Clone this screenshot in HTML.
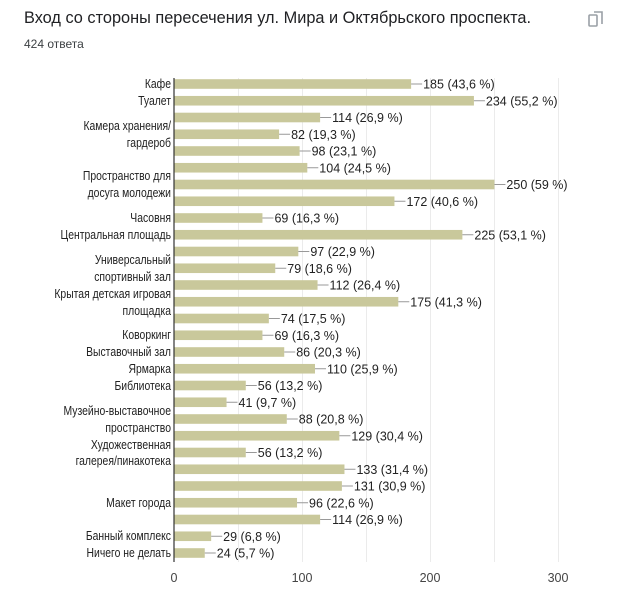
<!DOCTYPE html>
<html><head><meta charset="utf-8"><style>
body{margin:0;background:#fff;}
svg text{font-family:"Liberation Sans",Arial,sans-serif;}
</style></head><body>
<svg width="630" height="594" xmlns="http://www.w3.org/2000/svg">
<rect width="630" height="594" fill="#fff"/>
<text x="24" y="23" font-size="16.5" fill="#202124" textLength="507" lengthAdjust="spacingAndGlyphs">Вход со стороны пересечения ул. Мира и Октябрьского проспекта.</text>
<text x="24" y="48" font-size="12" fill="#3c4043">424 ответа</text>
<g fill="none" stroke="#9aa0a6" stroke-width="1.6">
<rect x="589" y="15" width="8" height="11" rx="1"/>
<path d="M594 12 H602 V24"/>
</g>
<g stroke="#ebebeb" stroke-width="1">
<line x1="238.5" y1="78" x2="238.5" y2="562"/>
<line x1="302.5" y1="78" x2="302.5" y2="562"/>
<line x1="366.5" y1="78" x2="366.5" y2="562"/>
<line x1="430.5" y1="78" x2="430.5" y2="562"/>
<line x1="494.5" y1="78" x2="494.5" y2="562"/>
<line x1="558.5" y1="78" x2="558.5" y2="562"/>
</g>
<g font-size="12.5" fill="#222">
<g transform="translate(0,84)"><rect x="174" y="-4.8" width="237.11" height="9.6" fill="#c9c89b"/><line x1="411.11" y1="0" x2="422.11" y2="0" stroke="#999"/><text x="423.11" y="4.5">185 (43,6 %)</text></g>
<g transform="translate(0,100.75)"><rect x="174" y="-4.8" width="299.92" height="9.6" fill="#c9c89b"/><line x1="473.92" y1="0" x2="484.92" y2="0" stroke="#999"/><text x="485.92" y="4.5">234 (55,2 %)</text></g>
<g transform="translate(0,117.5)"><rect x="174" y="-4.8" width="146.11" height="9.6" fill="#c9c89b"/><line x1="320.11" y1="0" x2="331.11" y2="0" stroke="#999"/><text x="332.11" y="4.5">114 (26,9 %)</text></g>
<g transform="translate(0,134.25)"><rect x="174" y="-4.8" width="105.10" height="9.6" fill="#c9c89b"/><line x1="279.10" y1="0" x2="290.10" y2="0" stroke="#999"/><text x="291.10" y="4.5">82 (19,3 %)</text></g>
<g transform="translate(0,151)"><rect x="174" y="-4.8" width="125.61" height="9.6" fill="#c9c89b"/><line x1="299.61" y1="0" x2="310.61" y2="0" stroke="#999"/><text x="311.61" y="4.5">98 (23,1 %)</text></g>
<g transform="translate(0,167.75)"><rect x="174" y="-4.8" width="133.30" height="9.6" fill="#c9c89b"/><line x1="307.30" y1="0" x2="318.30" y2="0" stroke="#999"/><text x="319.30" y="4.5">104 (24,5 %)</text></g>
<g transform="translate(0,184.5)"><rect x="174" y="-4.8" width="320.43" height="9.6" fill="#c9c89b"/><line x1="494.43" y1="0" x2="505.43" y2="0" stroke="#999"/><text x="506.43" y="4.5">250 (59 %)</text></g>
<g transform="translate(0,201.25)"><rect x="174" y="-4.8" width="220.45" height="9.6" fill="#c9c89b"/><line x1="394.45" y1="0" x2="405.45" y2="0" stroke="#999"/><text x="406.45" y="4.5">172 (40,6 %)</text></g>
<g transform="translate(0,218)"><rect x="174" y="-4.8" width="88.44" height="9.6" fill="#c9c89b"/><line x1="262.44" y1="0" x2="273.44" y2="0" stroke="#999"/><text x="274.44" y="4.5">69 (16,3 %)</text></g>
<g transform="translate(0,234.75)"><rect x="174" y="-4.8" width="288.38" height="9.6" fill="#c9c89b"/><line x1="462.38" y1="0" x2="473.38" y2="0" stroke="#999"/><text x="474.38" y="4.5">225 (53,1 %)</text></g>
<g transform="translate(0,251.5)"><rect x="174" y="-4.8" width="124.32" height="9.6" fill="#c9c89b"/><line x1="298.32" y1="0" x2="309.32" y2="0" stroke="#999"/><text x="310.32" y="4.5">97 (22,9 %)</text></g>
<g transform="translate(0,268.25)"><rect x="174" y="-4.8" width="101.25" height="9.6" fill="#c9c89b"/><line x1="275.25" y1="0" x2="286.25" y2="0" stroke="#999"/><text x="287.25" y="4.5">79 (18,6 %)</text></g>
<g transform="translate(0,285)"><rect x="174" y="-4.8" width="143.55" height="9.6" fill="#c9c89b"/><line x1="317.55" y1="0" x2="328.55" y2="0" stroke="#999"/><text x="329.55" y="4.5">112 (26,4 %)</text></g>
<g transform="translate(0,301.75)"><rect x="174" y="-4.8" width="224.30" height="9.6" fill="#c9c89b"/><line x1="398.30" y1="0" x2="409.30" y2="0" stroke="#999"/><text x="410.30" y="4.5">175 (41,3 %)</text></g>
<g transform="translate(0,318.5)"><rect x="174" y="-4.8" width="94.85" height="9.6" fill="#c9c89b"/><line x1="268.85" y1="0" x2="279.85" y2="0" stroke="#999"/><text x="280.85" y="4.5">74 (17,5 %)</text></g>
<g transform="translate(0,335.25)"><rect x="174" y="-4.8" width="88.44" height="9.6" fill="#c9c89b"/><line x1="262.44" y1="0" x2="273.44" y2="0" stroke="#999"/><text x="274.44" y="4.5">69 (16,3 %)</text></g>
<g transform="translate(0,352)"><rect x="174" y="-4.8" width="110.23" height="9.6" fill="#c9c89b"/><line x1="284.23" y1="0" x2="295.23" y2="0" stroke="#999"/><text x="296.23" y="4.5">86 (20,3 %)</text></g>
<g transform="translate(0,368.75)"><rect x="174" y="-4.8" width="140.99" height="9.6" fill="#c9c89b"/><line x1="314.99" y1="0" x2="325.99" y2="0" stroke="#999"/><text x="326.99" y="4.5">110 (25,9 %)</text></g>
<g transform="translate(0,385.5)"><rect x="174" y="-4.8" width="71.78" height="9.6" fill="#c9c89b"/><line x1="245.78" y1="0" x2="256.78" y2="0" stroke="#999"/><text x="257.78" y="4.5">56 (13,2 %)</text></g>
<g transform="translate(0,402.25)"><rect x="174" y="-4.8" width="52.55" height="9.6" fill="#c9c89b"/><line x1="226.55" y1="0" x2="237.55" y2="0" stroke="#999"/><text x="238.55" y="4.5">41 (9,7 %)</text></g>
<g transform="translate(0,419)"><rect x="174" y="-4.8" width="112.79" height="9.6" fill="#c9c89b"/><line x1="286.79" y1="0" x2="297.79" y2="0" stroke="#999"/><text x="298.79" y="4.5">88 (20,8 %)</text></g>
<g transform="translate(0,435.75)"><rect x="174" y="-4.8" width="165.34" height="9.6" fill="#c9c89b"/><line x1="339.34" y1="0" x2="350.34" y2="0" stroke="#999"/><text x="351.34" y="4.5">129 (30,4 %)</text></g>
<g transform="translate(0,452.5)"><rect x="174" y="-4.8" width="71.78" height="9.6" fill="#c9c89b"/><line x1="245.78" y1="0" x2="256.78" y2="0" stroke="#999"/><text x="257.78" y="4.5">56 (13,2 %)</text></g>
<g transform="translate(0,469.25)"><rect x="174" y="-4.8" width="170.47" height="9.6" fill="#c9c89b"/><line x1="344.47" y1="0" x2="355.47" y2="0" stroke="#999"/><text x="356.47" y="4.5">133 (31,4 %)</text></g>
<g transform="translate(0,486)"><rect x="174" y="-4.8" width="167.90" height="9.6" fill="#c9c89b"/><line x1="341.90" y1="0" x2="352.90" y2="0" stroke="#999"/><text x="353.90" y="4.5">131 (30,9 %)</text></g>
<g transform="translate(0,502.75)"><rect x="174" y="-4.8" width="123.04" height="9.6" fill="#c9c89b"/><line x1="297.04" y1="0" x2="308.04" y2="0" stroke="#999"/><text x="309.04" y="4.5">96 (22,6 %)</text></g>
<g transform="translate(0,519.5)"><rect x="174" y="-4.8" width="146.11" height="9.6" fill="#c9c89b"/><line x1="320.11" y1="0" x2="331.11" y2="0" stroke="#999"/><text x="332.11" y="4.5">114 (26,9 %)</text></g>
<g transform="translate(0,536.25)"><rect x="174" y="-4.8" width="37.17" height="9.6" fill="#c9c89b"/><line x1="211.17" y1="0" x2="222.17" y2="0" stroke="#999"/><text x="223.17" y="4.5">29 (6,8 %)</text></g>
<g transform="translate(0,553)"><rect x="174" y="-4.8" width="30.76" height="9.6" fill="#c9c89b"/><line x1="204.76" y1="0" x2="215.76" y2="0" stroke="#999"/><text x="216.76" y="4.5">24 (5,7 %)</text></g>
</g>
<line x1="174" y1="78" x2="174" y2="562" stroke="#333" stroke-width="1.2"/>
<g font-size="13" fill="#222" text-anchor="end" transform="translate(171,0) scale(0.8,1) translate(-171,0)">
<text x="171" y="88">Кафе</text>
<text x="171" y="105">Туалет</text>
<text x="171" y="130">Камера хранения/</text>
<text x="171" y="147">гардероб</text>
<text x="171" y="180">Пространство для</text>
<text x="171" y="197">досуга молодежи</text>
<text x="171" y="222">Часовня</text>
<text x="171" y="239">Центральная площадь</text>
<text x="171" y="264">Универсальный</text>
<text x="171" y="281">спортивный зал</text>
<text x="171" y="298">Крытая детская игровая</text>
<text x="171" y="315">площадка</text>
<text x="171" y="339">Коворкинг</text>
<text x="171" y="356">Выставочный зал</text>
<text x="171" y="373">Ярмарка</text>
<text x="171" y="390">Библиотека</text>
<text x="171" y="415">Музейно-выставочное</text>
<text x="171" y="432">пространство</text>
<text x="171" y="449">Художественная</text>
<text x="171" y="465">галерея/пинакотека</text>
<text x="171" y="507">Макет города</text>
<text x="171" y="540">Банный комплекс</text>
<text x="171" y="557">Ничего не делать</text>
</g>
<g font-size="12.5" fill="#444" text-anchor="middle">
<text x="174" y="582">0</text>
<text x="302" y="582">100</text>
<text x="430" y="582">200</text>
<text x="558" y="582">300</text>
</g>
</svg>
</body></html>
